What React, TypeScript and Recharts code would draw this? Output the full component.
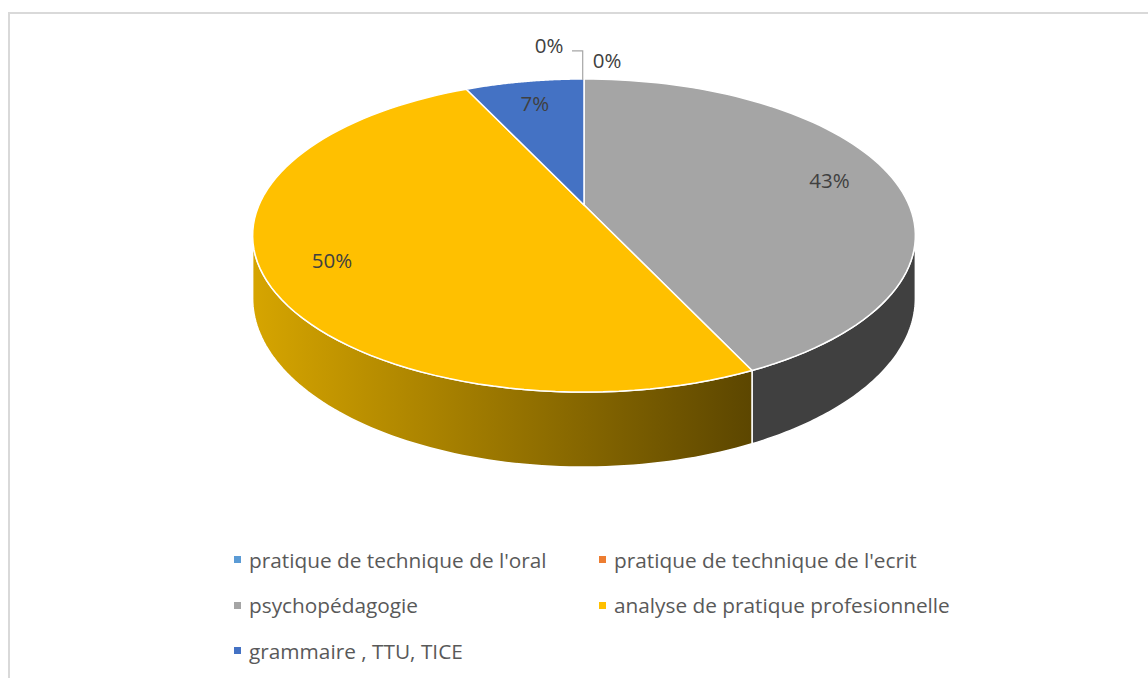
import { Cell, Legend, Pie, PieChart } from 'recharts';

const categories = [
  "pratique de technique de l'oral",
  "pratique de technique de l'ecrit",
  'psychopédagogie',
  'analyse de pratique profesionnelle',
  'grammaire , TTU, TICE',
];
const shares = [0, 0, 43, 50, 7];
const colors = ['#5B9BD5', '#ED7D31', '#A5A5A5', '#FFC000', '#4472C4'];

const data = categories.map((name, i) => ({ name, value: shares[i] }));

// perspective of the tilted disc
const K = 0.195;
const AX = 325;
const BY = 150.6;
const DEPTH = 60.4;
const RAD = Math.PI / 180;
const FONT = '"Open Sans", sans-serif';

const proj = (cx: number, cy: number, t: number, r = 1) => {
  const u = r * Math.sin(t);
  const v = -r * Math.cos(t);
  const d = 1 - K * v;
  return { x: cx + (AX * u) / d, y: cy + (BY * v) / d, d };
};

const wallFill = (fill: string) => {
  if (fill === '#FFC000') return 'url(#wallGold)';
  if (fill === '#A5A5A5') return '#404040';
  return '#2a4a85';
};

const Slice3D = (props: any) => {
  const { cx, cy, startAngle, endAngle, fill } = props;
  const t1 = (90 - startAngle) * RAD;
  const t2 = (90 - endAngle) * RAD;
  if (Math.abs(t2 - t1) < 1e-6) return <g />;

  const n = 80;
  let top = `M${cx},${cy}`;
  for (let i = 0; i <= n; i++) {
    const p = proj(cx, cy, t1 + ((t2 - t1) * i) / n);
    top += `L${p.x},${p.y}`;
  }
  top += 'Z';

  // front wall, only the part facing the viewer
  const lo = Math.max(t1, Math.acos(-K));
  const hi = Math.min(t2, 2 * Math.PI - Math.acos(-K));
  let wall = '';
  if (hi > lo) {
    const upper: string[] = [];
    const lower: string[] = [];
    for (let i = 0; i <= n; i++) {
      const p = proj(cx, cy, lo + ((hi - lo) * i) / n);
      upper.push(`${p.x},${p.y}`);
      lower.push(`${p.x},${p.y + DEPTH / p.d}`);
    }
    wall = `M${upper.join('L')}L${lower.reverse().join('L')}Z`;
  }

  return (
    <g>
      <defs>
        <linearGradient id="wallGold" x1="0" y1="0" x2="1" y2="0">
          <stop offset="0%" stopColor="#D6A500" />
          <stop offset="100%" stopColor="#5C4600" />
        </linearGradient>
      </defs>
      {wall && <path d={wall} fill={wallFill(fill)} stroke="#fff" strokeWidth={1.5} strokeLinejoin="round" />}
      <path d={top} fill={fill} stroke="#fff" strokeWidth={1.5} strokeLinejoin="round" />
    </g>
  );
};

const labelStyle = { fill: '#404040', fontSize: 20.5, fontFamily: FONT };

const renderLabel = (props: any) => {
  const { cx, cy, midAngle, percent, index, value } = props;
  const t = (90 - midAngle) * RAD;
  const text = `${Math.round(percent * 100)}%`;
  if (value === 0) {
    const rim = proj(cx, cy, t);
    const zerosBefore = shares.slice(0, index).filter((s) => s === 0).length;
    if (zerosBefore === 0) {
      return (
        <g>
          <path
            d={`M${rim.x - 12},${rim.y - 28}L${rim.x - 1.3},${rim.y - 28}L${rim.x - 1.3},${rim.y + 1}`}
            fill="none"
            stroke="#A6A6A6"
            strokeWidth={1.2}
          />
          <text x={rim.x - 35} y={rim.y - 34} textAnchor="middle" dominantBaseline="central" {...labelStyle}>
            {text}
          </text>
        </g>
      );
    }
    return (
      <text x={rim.x + 23} y={rim.y - 19} textAnchor="middle" dominantBaseline="central" {...labelStyle}>
        {text}
      </text>
    );
  }
  const p = proj(cx, cy, t, 0.8);
  return (
    <text x={p.x} y={p.y} textAnchor="middle" dominantBaseline="central" {...labelStyle}>
      {text}
    </text>
  );
};

const renderLegend = () => (
  <div style={{ display: 'grid', gridTemplateColumns: '365px auto', fontFamily: FONT, fontSize: 20.8, color: '#595959' }}>
    {categories.map((name, i) => (
      <div key={name} style={{ display: 'flex', alignItems: 'center', height: 45.5 }}>
        <span style={{ width: 7, height: 7, background: colors[i], marginRight: 8, flex: 'none' }} />
        <span>{name}</span>
      </div>
    ))}
  </div>
);

export default function App() {
  return (
    <div
      style={{
        position: 'fixed',
        left: 8,
        top: 12,
        width: 1160,
        height: 700,
        borderTop: '2px solid #D9D9D9',
        borderLeft: '2px solid #D9D9D9',
        background: '#fff',
      }}
    >
      <PieChart width={1138} height={664} margin={{ top: 0, right: 0, bottom: 0, left: 0 }}>
        <Pie
          data={data}
          dataKey="value"
          nameKey="name"
          cx={574}
          cy={191}
          outerRadius={150}
          startAngle={90}
          endAngle={-270}
          shape={Slice3D}
          label={renderLabel}
          labelLine={false}
          isAnimationActive={false}
        >
          {data.map((d, i) => (
            <Cell key={d.name} fill={colors[i]} />
          ))}
        </Pie>
        <Legend content={renderLegend} wrapperStyle={{ left: 224, top: 523, width: 760, bottom: 'auto' }} />
      </PieChart>
    </div>
  );
}
